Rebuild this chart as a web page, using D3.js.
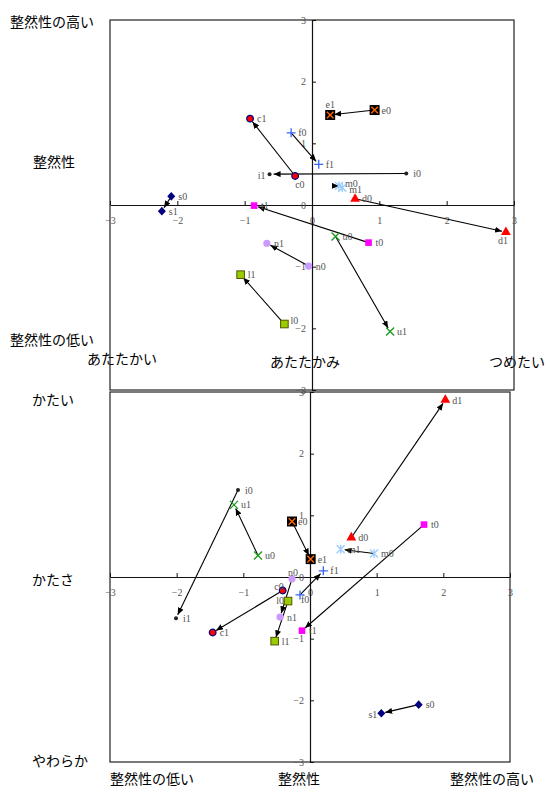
<!DOCTYPE html>
<html>
<head>
<meta charset="utf-8">
<script src="https://cdn.jsdelivr.net/npm/d3@7"></script>
<style>
  body { margin: 0; background: #fff; }
  svg { display: block; }
</style>
</head>
<body>
<svg id="chart" width="545" height="787"></svg>
<script>
// Item codes; each item has a "0" (before) and a "1" (after) position.
const codes = ["c", "f", "i", "e", "m", "d", "t", "u", "n", "l", "s"];

// Panel 1: warmth (x) against orderliness (y)
const warmX0 = [-0.25, -0.31, 1.40, 0.93, 0.40, 0.64, 0.84, 0.35, -0.05, -0.41, -2.09];
const warmY0 = [0.47, 1.17, 0.51, 1.54, 0.31, 0.10, -0.61, -0.51, -0.99, -1.93, 0.14];
const warmX1 = [-0.92, 0.10, -0.63, 0.27, 0.45, 2.88, -0.86, 1.16, -0.67, -1.06, -2.23];
const warmY1 = [1.40, 0.66, 0.50, 1.46, 0.28, -0.44, -0.01, -2.05, -0.62, -1.13, -0.10];

// Panel 2: orderliness (x) against hardness (y)
const hardX0 = [-0.41, -0.15, -1.08, -0.27, 0.96, 0.62, 1.71, -0.78, -0.27, -0.33, 1.63];
const hardY0 = [-0.22, -0.29, 1.41, 0.90, 0.38, 0.64, 0.85, 0.35, -0.03, -0.39, -2.07];
const hardX1 = [-1.46, 0.20, -2.01, 0.01, 0.46, 2.03, -0.12, -1.14, -0.45, -0.53, 1.07];
const hardY1 = [-0.90, 0.10, -0.67, 0.29, 0.45, 2.87, -0.87, 1.17, -0.65, -1.04, -2.21];

const tickValues = [-3, -2, -1, 0, 1, 2, 3];

// Axis captions
const warmCaptions = ["整然性の高い", "整然性", "整然性の低い", "あたたかい", "あたたかみ", "つめたい"];
const hardCaptions = ["かたい", "かたさ", "やわらか", "整然性の低い", "整然性", "整然性の高い"];

const svg = d3.select("#chart");
const serif = "'Liberation Serif', 'DejaVu Serif', serif";
const gothic = "'Noto Sans CJK JP', 'Noto Sans', sans-serif";
const tickFmt = d3.format("d");

svg.append("defs").append("marker")
  .attr("id", "arrow")
  .attr("markerUnits", "userSpaceOnUse")
  .attr("viewBox", "0 -3 7 6")
  .attr("refX", 7).attr("refY", 0)
  .attr("markerWidth", 7).attr("markerHeight", 6)
  .attr("orient", "auto")
  .append("path").attr("d", "M0,-3L7,0L0,3Z").attr("fill", "#000");

// Marker glyph per item code
function drawMarker(g, code, x, y) {
  const m = g.append("g").attr("transform", `translate(${x},${y})`);
  switch (code) {
    case "c":
      m.append("circle").attr("r", 3.3).attr("fill", "#ff0000").attr("stroke", "#000080").attr("stroke-width", 1.3);
      break;
    case "f":
      m.append("path").attr("d", "M-4.5,0H4.5M0,-4.5V4.5").attr("stroke", "#3366ff").attr("stroke-width", 1.3).attr("fill", "none");
      break;
    case "i":
      m.append("circle").attr("r", 2).attr("fill", "#222");
      break;
    case "e":
      m.append("rect").attr("x", -5).attr("y", -5).attr("width", 10).attr("height", 10).attr("fill", "#000");
      m.append("path").attr("d", "M-3.3,-3.3L3.3,3.3M-3.3,3.3L3.3,-3.3").attr("stroke", "#ff6600").attr("stroke-width", 1.4);
      break;
    case "m":
      m.append("path").attr("d", "M-4,-4L4,4M-4,4L4,-4M0,-4.5V4.5").attr("stroke", "#99ccff").attr("stroke-width", 1.3);
      break;
    case "d":
      m.append("path").attr("d", d3.symbol(d3.symbolTriangle, 42)()).attr("fill", "#ff0000");
      break;
    case "t":
      m.append("rect").attr("x", -3.3).attr("y", -3.3).attr("width", 6.6).attr("height", 6.6).attr("fill", "#ff00ff");
      break;
    case "u":
      m.append("path").attr("d", "M-4,-4L4,4M-4,4L4,-4").attr("stroke", "#1a9a1a").attr("stroke-width", 1.3);
      break;
    case "n":
      m.append("circle").attr("r", 3.6).attr("fill", "#cc99ff");
      break;
    case "l":
      m.append("rect").attr("x", -3.8).attr("y", -3.8).attr("width", 7.6).attr("height", 7.6).attr("fill", "#99cc00").attr("stroke", "#555500").attr("stroke-width", 1);
      break;
    case "s":
      m.append("path").attr("d", "M0,-4.3L4,0L0,4.3L-4,0Z").attr("fill", "#000080");
      break;
  }
}

function drawPanel(opts) {
  const { left, right, top, bottom, X0, Y0, X1, Y1, place } = opts;
  const x = d3.scaleLinear().domain([-3, 3]).range([left, right]);
  const y = d3.scaleLinear().domain([-3, 3]).range([bottom, top]);
  const g = svg.append("g");

  // frame
  g.append("rect").attr("x", left).attr("y", top)
    .attr("width", right - left).attr("height", bottom - top)
    .attr("fill", "none").attr("stroke", "#222").attr("stroke-width", 1.2);

  const xAxis = d3.axisBottom(x).tickValues(tickValues).tickFormat(tickFmt)
    .tickSizeInner(-4).tickSizeOuter(0).tickPadding(12);
  const yAxis = d3.axisLeft(y).tickValues(tickValues).tickFormat(tickFmt)
    .tickSizeInner(-4).tickSizeOuter(0).tickPadding(6);

  const gx = g.append("g").attr("transform", `translate(0,${y(0)})`).call(xAxis);
  const gy = g.append("g").attr("transform", `translate(${x(0)},0)`).call(yAxis);
  [gx, gy].forEach(a => {
    a.select(".domain").attr("stroke", "#111").attr("stroke-width", 1.2);
    a.selectAll(".tick line").attr("stroke", "#111");
    a.selectAll(".tick text").attr("fill", "#555").style("font-family", serif).style("font-size", "10px");
  });

  // arrows from "0" to "1"
  const shorten = 4;
  codes.forEach((c, i) => {
    const ax = x(X0[i]), ay = y(Y0[i]), bx = x(X1[i]), by = y(Y1[i]);
    const len = Math.hypot(bx - ax, by - ay);
    const k = Math.max(0, (len - shorten) / len);
    g.append("line")
      .attr("x1", ax).attr("y1", ay)
      .attr("x2", ax + (bx - ax) * k).attr("y2", ay + (by - ay) * k)
      .attr("stroke", "#000").attr("stroke-width", 1.1)
      .attr("marker-end", "url(#arrow)");
  });

  // markers and labels
  codes.forEach((c, i) => {
    [[X0[i], Y0[i], c + "0"], [X1[i], Y1[i], c + "1"]].forEach(([vx, vy, name]) => {
      const px = x(vx), py = y(vy);
      drawMarker(g, c, px, py);
      const p = place[name] || [7, 0, "start"];
      g.append("text")
        .attr("x", px + p[0]).attr("y", py + p[1])
        .attr("dy", "0.35em")
        .attr("text-anchor", p[2])
        .attr("fill", "#555")
        .style("font-family", serif).style("font-size", "10px")
        .text(name);
    });
  });
}

function caption(text, x, y) {
  svg.append("text").attr("x", x).attr("y", y)
    .attr("fill", "#000")
    .style("font-family", gothic).style("font-size", "14px")
    .text(text);
}

// captions first so frame lines run over them
caption(warmCaptions[0], 10, 27);
caption(warmCaptions[1], 33, 167);
caption(warmCaptions[2], 10, 345);
caption(warmCaptions[3], 87, 364);
caption(warmCaptions[4], 270, 367);
caption(warmCaptions[5], 489, 367);
caption(hardCaptions[0], 32, 405);
caption(hardCaptions[1], 32, 585);
caption(hardCaptions[2], 32, 766);
caption(hardCaptions[3], 110, 784);
caption(hardCaptions[4], 278, 784);
caption(hardCaptions[5], 450, 784);

drawPanel({
  left: 110, right: 514, top: 20, bottom: 390,
  X0: warmX0, Y0: warmY0, X1: warmX1, Y1: warmY1,
  place: {
    c0: [0, 8, "start"], e1: [0, -10, "middle"], d1: [-3, 8, "middle"],
    i1: [-4, 1, "end"], l0: [6, -4, "start"], m1: [7, 2, "start"], m0: [6, -2, "start"],
    t1: [7, 0, "start"]
  }
});

drawPanel({
  left: 110, right: 510, top: 392, bottom: 762,
  X0: hardX0, Y0: hardY0, X1: hardX1, Y1: hardY1,
  place: {
    n0: [1, -6, "middle"], c0: [1, -4, "end"], l0: [-4, -1, "end"],
    f0: [1, 5, "start"], s1: [-4, 1, "end"], e0: [6, 0, "start"]
  }
});
</script>
</body>
</html>
